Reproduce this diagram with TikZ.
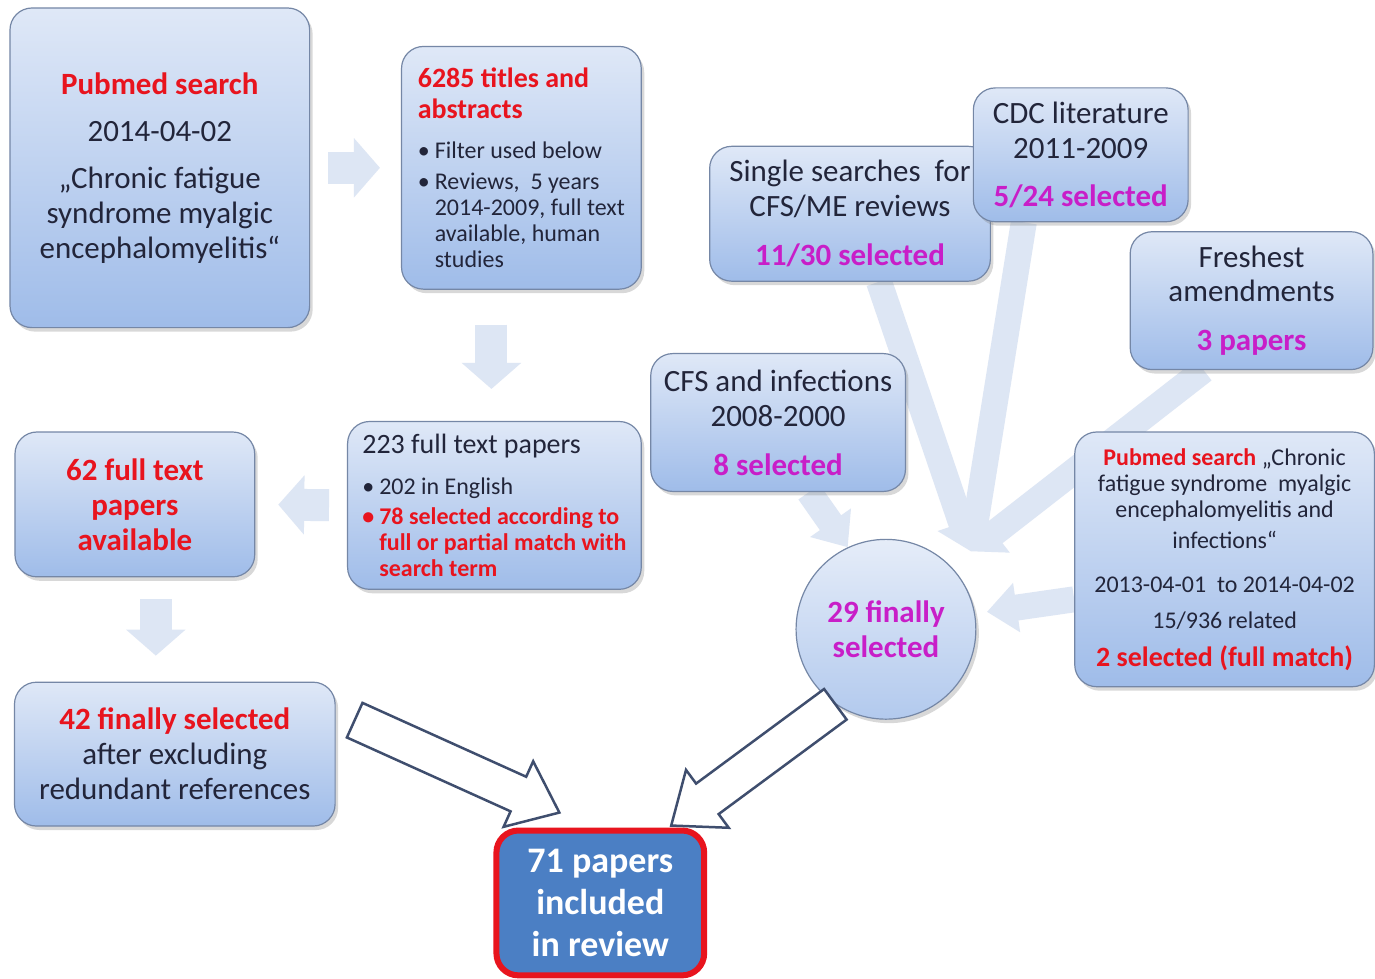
\documentclass[tikz,border=0pt]{standalone}
\usepackage{fontspec}
\setmainfont{Carlito}
\usetikzlibrary{arrows.meta, calc, shadows, backgrounds}
\definecolor{boxtop}{HTML}{DFE8F7}
\definecolor{boxbottom}{HTML}{9FBCE9}
\definecolor{boxline}{HTML}{7587A6}
\definecolor{darktext}{HTML}{22253A}
\definecolor{hitred}{HTML}{E8141E}
\definecolor{hitpink}{HTML}{C81EC8}
\definecolor{finalblue}{HTML}{4B7FC4}
\definecolor{paleblue}{HTML}{DDE6F4}
\definecolor{arrowline}{HTML}{3F4E6E}

\newcommand{\txtL}{\fontsize{31}{35}\selectfont}
\newcommand{\txtM}{\fontsize{28}{31}\selectfont}
\newcommand{\txtS}{\fontsize{24}{26}\selectfont}
\newcommand{\bul}{\makebox[17pt][l]{\textbullet}}
\newcommand{\ind}{\hspace*{17pt}}

\begin{document}
\begin{tikzpicture}[x=1pt, y=-1pt]
\tikzstyle{stage} = [rectangle, rounded corners=22pt, draw=boxline, line width=1.2pt, top color=boxtop, bottom color=boxbottom, text=darktext, align=center, inner sep=0pt, drop shadow={shadow xshift=3pt, shadow yshift=-4pt, opacity=0.3}]
\tikzstyle{pool} = [circle, draw=boxline, line width=1.2pt, top color=boxtop!80!white, bottom color=boxbottom!80!white, text=hitpink, align=center, inner sep=0pt, minimum size=180pt, drop shadow={shadow xshift=3pt, shadow yshift=-4pt, opacity=0.3}]
\tikzstyle{result} = [rectangle, rounded corners=22pt, draw=hitred, line width=6pt, fill=finalblue, text=white, align=center, inner sep=0pt]
\tikzstyle{feed} = [draw=paleblue, line width=32pt, -{Triangle[width=58pt, length=26pt]}]
\tikzstyle{longfeed} = [draw=paleblue, line width=26pt, -{Triangle[width=48pt, length=30pt]}]
\tikzstyle{hollow} = [draw=arrowline, line width=2.5pt, fill=white, line join=miter]

% left column
\node (pubmed) [stage, minimum width=300pt, minimum height=320pt, font=\txtL] at (160,168) {{\color{hitred}\bfseries Pubmed search}\\[12pt]2014-04-02\\[12pt]„Chronic fatigue\\syndrome myalgic\\encephalomyelitis“};
\node (titles) [stage, minimum width=240pt, minimum height=243pt, align=left, font=\txtS] at (522,168) {{\fontsize{28}{31}\selectfont\color{hitred}\bfseries 6285 titles and}\\[5pt]{\fontsize{28}{31}\selectfont\color{hitred}\bfseries abstracts}\\[14pt]\bul Filter used below\\[5pt]\bul Reviews,~ 5 years\\\ind 2014-2009, full text\\\ind available, human\\\ind studies};
\node (fulltext) [stage, minimum width=294pt, minimum height=168pt, align=left, font=\txtS] at (495,506) {{\txtM 223 full text papers}\\[15pt]\bul 202 in English\\[4pt]{\color{hitred}\bfseries\bul 78 selected according to}\\{\color{hitred}\bfseries\ind full or partial match with}\\{\color{hitred}\bfseries\ind search term}};
\node (avail62) [stage, minimum width=240pt, minimum height=145pt, font=\txtL\bfseries, text=hitred] at (135,505) {62 full text\\papers\\available};
\node (final42) [stage, minimum width=321pt, minimum height=144pt, font=\txtL] at (175,755) {{\color{hitred}\bfseries 42 finally selected}\\after excluding\\redundant references};
\node (final71) [result, minimum width=208pt, minimum height=145pt, font=\fontsize{36}{42}\selectfont\bfseries] at (601,904) {71 papers\\included\\in review};

% right side
\node (reviews) [stage, minimum width=281pt, minimum height=135pt, font=\txtL] at (851,214) {Single searches~ for\\CFS/ME reviews\\[14pt]{\color{hitpink}\bfseries 11/30 selected}};
\node (cdc) [stage, minimum width=215pt, minimum height=134pt, font=\txtL] at (1082,155) {CDC literature\\2011-2009\\[13pt]{\color{hitpink}\bfseries 5/24 selected}};
\node (fresh) [stage, minimum width=243pt, minimum height=138pt, font=\txtL] at (1253,301) {Freshest\\amendments\\[14pt]{\color{hitpink}\bfseries 3 papers}};
\node (infect) [stage, minimum width=255pt, minimum height=138pt, font=\txtL] at (779,423) {CFS and infections\\2008-2000\\[14pt]{\color{hitpink}\bfseries 8 selected}};
\node (kpubmed) [stage, minimum width=300pt, minimum height=255pt, font=\txtS] at (1226,560) {{\color{hitred}\bfseries Pubmed search} „Chronic\\fatigue syndrome~ myalgic\\encephalomyelitis and\\[5pt]infections“\\[18pt]2013-04-01~ to 2014-04-02\\[10pt]15/936 related\\[12pt]{\fontsize{28}{30}\selectfont\color{hitred}\bfseries 2 selected (full match)}};
\node (selected29) [pool, font=\txtL\bfseries] at (887,630) {29 finally\\selected};
\coordinate (hub) at (972,552);

\begin{scope}[on background layer]
\fill[white] (0,0) rectangle (1375,977);
\draw[feed, shorten <=18pt, shorten >=21pt] (pubmed.east) -- (titles.west |- pubmed.east);
\draw[feed, shorten <=35pt, shorten >=32pt] ([xshift=-30pt]titles.south) -- ([xshift=-3pt]fulltext.north);
\draw[feed, shorten <=18pt, shorten >=23pt] (fulltext.west) -- (avail62.east);
\draw[feed, shorten <=22pt, shorten >=26pt] ([xshift=21pt]avail62.south) -- ([xshift=-19pt]final42.north);
\draw[longfeed] ([xshift=31pt]infect.south) -- (selected29.115);
\draw[longfeed] ([xshift=29pt]reviews.south) -- (hub);
\draw[longfeed] ([xshift=-57pt]cdc.south) -- (hub);
\draw[longfeed] ([xshift=-48pt]fresh.south) -- (hub);
\draw[longfeed, shorten >=12pt] ($(kpubmed.west)+(0,40)$) -- (selected29.10);
\end{scope}

% hollow arrows into the result
\coordinate (from42) at ($(final42.east)+(19,-34)$);
\coordinate (into71a) at ($(final71.north)+(-41,-15)$);
\coordinate (into71b) at ($(final71.north)+(71,-2)$);
\foreach \s/\t in {from42/into71a, selected29.236/into71b}
  \draw[hollow] ($(\s)!19pt!90:(\t)$) -- ($(\t)!45pt!(\s)!19pt!-90:(\s)$) -- ($(\t)!45pt!(\s)!36pt!-90:(\s)$) -- (\t) -- ($(\t)!45pt!(\s)!36pt!90:(\s)$) -- ($(\t)!45pt!(\s)!19pt!90:(\s)$) -- ($(\s)!19pt!-90:(\t)$) -- cycle;

\useasboundingbox (0,0) rectangle (1375,977);
\end{tikzpicture}
\end{document}
